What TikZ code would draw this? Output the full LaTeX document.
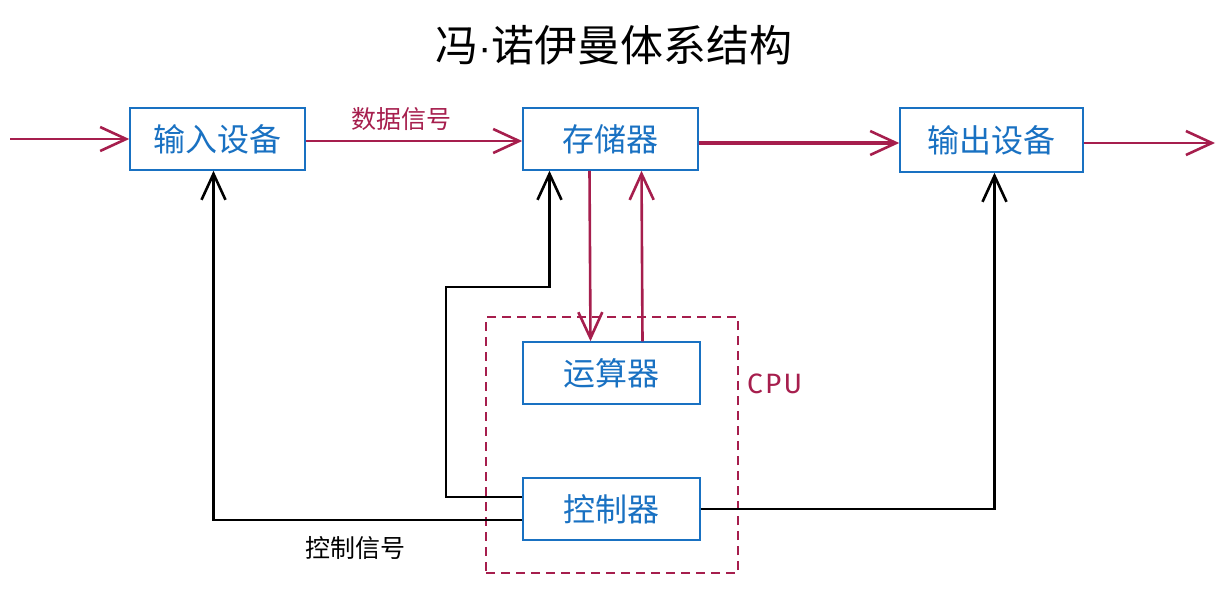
\documentclass[tikz,border=0pt]{standalone}
\usepackage{fontspec}
\setmainfont{Liberation Sans}
\newfontfamily\cjk{Noto Sans CJK SC}
\newfontfamily\latin{Liberation Sans}
\newfontfamily\hand[LetterSpace=8]{Fira Sans}
\usetikzlibrary{arrows.meta}
\definecolor{exred}{HTML}{A61E4D}
\definecolor{exblue}{HTML}{1971C2}
\tikzset{
  box/.style={draw=exblue, line width=1.5pt, minimum width=175pt, minimum height=62pt, inner sep=0pt,
    text=exblue, font=\cjk\fontsize{32pt}{34pt}\selectfont},
  tipv/.style={-{Straight Barb[length=26pt,width=24pt,line width=2.6pt]}},
  redarrow/.style={tipv, draw=exred, line width=2.6pt},
  redthick/.style={tipv, draw=exred, line width=3.6pt},
  blkarrow/.style={tipv, draw=black, line width=2.2pt},
  lbl/.style={font=\cjk\fontsize{25pt}{27pt}\selectfont, inner sep=0pt},
}
\begin{document}
\begin{tikzpicture}[x=1pt,y=-1pt]
\useasboundingbox (0,0) rectangle (1232,598);
% title
\node[font=\cjk\fontsize{43pt}{46pt}\selectfont, inner sep=0pt] (title) at (614,45) {冯{\latin\fontsize{40pt}{44pt}\selectfont·}诺伊曼体系结构};
% boxes
\node[box] (in)  at (217.5,139) {输入设备};
\node[box] (mem) at (610.5,139) {存储器};
\node[box, minimum width=183pt, minimum height=64pt] (out) at (991.5,140) {输出设备};
\node[box, minimum width=177pt] (alu) at (611.5,373) {运算器};
\node[box, minimum width=177pt] (ctl) at (611.5,509) {控制器};
% CPU dashed box
\node[draw=exred, dashed, dash pattern=on 9pt off 6pt, line width=1.8pt, minimum width=252pt, minimum height=256pt, inner sep=0pt] (cpu) at (612,445) {};
\node[text=exred, font=\hand\fontsize{28pt}{30pt}\selectfont, inner sep=0pt, anchor=west] (cpul) at (747,384) {CPU};
% coordinates
\coordinate (inL) at (10,139);
\coordinate (outR) at (1215,143);
\coordinate (k1) at (446,287);
% labels
\node[lbl, text=exred] (dlbl) at (401,119) {数据信号};
\node[lbl] (clbl) at (355,548) {控制信号};
% data flow
\draw[redarrow] (inL) -- (in.west);
\draw[redarrow] ([yshift=-2pt]in.east) -- ([yshift=-2pt]mem.west);
\draw[redthick] ([yshift=-4pt]mem.east) -- ([yshift=-3pt]out.west);
\draw[redarrow] ([yshift=-3pt]out.east) -- (outR);
\draw[redarrow] ([xshift=-21pt]mem.south) -- ([xshift=-21pt]alu.north);
\draw[redarrow] ([xshift=31pt]alu.north) -- ([xshift=31pt]mem.south);
% control flow
\draw[blkarrow] ([yshift=12pt]ctl.west) -| (k1) -| ([xshift=-61pt]mem.south);
\draw[blkarrow] ([yshift=-11pt]ctl.west) -| ([xshift=-4pt]in.south);
\draw[blkarrow] (ctl.east) -| ([xshift=3pt]out.south);
\end{tikzpicture}
\end{document}
